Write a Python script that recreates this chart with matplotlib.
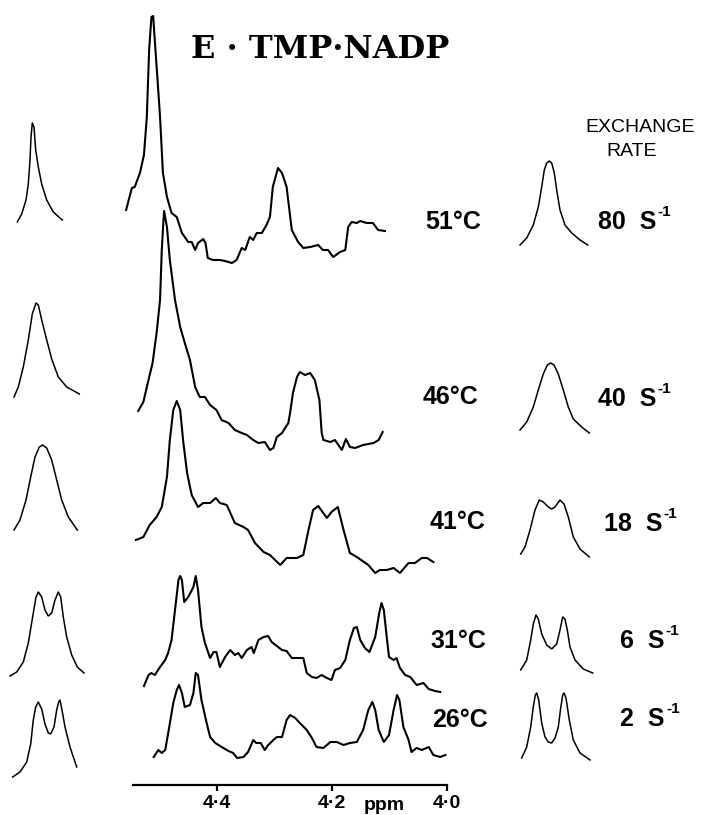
import matplotlib
matplotlib.use("Agg")
import matplotlib.pyplot as plt

W, H = 701, 815

temps = ["51°C", "46°C", "41°C", "31°C", "26°C"]
rates = ["80", "40", "18", "6", "2"]

# observed spectra: chemical shift (ppm) and height above the trace's baseline
ppm_51 = [4.558, 4.548, 4.543, 4.534, 4.527, 4.522, 4.518, 4.514, 4.511, 4.507,
          4.503, 4.499, 4.494, 4.487, 4.479, 4.470, 4.461, 4.450, 4.444, 4.438,
          4.433, 4.424, 4.420, 4.416, 4.407, 4.395, 4.386, 4.374, 4.366, 4.357,
          4.351, 4.343, 4.337, 4.331, 4.322, 4.314, 4.308, 4.303, 4.294, 4.287,
          4.279, 4.270, 4.259, 4.250, 4.238, 4.224, 4.216, 4.207, 4.198, 4.186,
          4.177, 4.172, 4.166, 4.157, 4.151, 4.140, 4.129, 4.120, 4.108]
int_51 = [55, 77, 78, 92, 110, 148, 215, 248, 249, 215,
          182, 148, 92, 68, 52, 48, 32, 23, 23, 15,
          22, 26, 22, 7, 5, 5, 4, 2, 5, 17,
          15, 28, 25, 32, 32, 40, 48, 78, 97, 92,
          78, 35, 23, 17, 18, 20, 15, 15, 8, 13,
          15, 38, 43, 42, 44, 42, 42, 35, 34]

ppm_46 = [4.537, 4.528, 4.522, 4.512, 4.505, 4.499, 4.496, 4.493, 4.492, 4.487,
          4.482, 4.473, 4.464, 4.456, 4.447, 4.438, 4.430, 4.421, 4.412, 4.401,
          4.392, 4.380, 4.369, 4.357, 4.348, 4.337, 4.328, 4.317, 4.308, 4.302,
          4.296, 4.287, 4.276, 4.273, 4.268, 4.261, 4.256, 4.247, 4.238, 4.230,
          4.222, 4.218, 4.215, 4.203, 4.195, 4.183, 4.176, 4.169, 4.160, 4.146,
          4.128, 4.119, 4.112]
int_46 = [39, 48, 63, 87, 117, 150, 200, 230, 239, 223,
          190, 150, 123, 107, 90, 63, 53, 53, 45, 40,
          30, 27, 20, 17, 15, 10, 7, 8, 0, 2,
          13, 17, 27, 37, 57, 73, 78, 75, 77, 70,
          50, 17, 10, 8, 10, 0, 11, 3, 2, 5,
          7, 10, 18]

ppm_41 = [4.541, 4.528, 4.517, 4.505, 4.496, 4.487, 4.482, 4.476, 4.470, 4.464,
          4.459, 4.452, 4.444, 4.433, 4.424, 4.412, 4.402, 4.395, 4.383, 4.369,
          4.354, 4.346, 4.334, 4.319, 4.308, 4.290, 4.279, 4.261, 4.250, 4.241,
          4.233, 4.224, 4.209, 4.201, 4.190, 4.180, 4.169, 4.157, 4.137, 4.125,
          4.117, 4.105, 4.093, 4.082, 4.067, 4.056, 4.044, 4.035, 4.024]
int_41 = [35, 38, 50, 58, 68, 98, 135, 165, 174, 165,
          135, 102, 80, 68, 72, 72, 77, 72, 70, 52,
          48, 45, 32, 23, 20, 10, 17, 17, 20, 45,
          65, 69, 57, 63, 68, 45, 22, 18, 10, 2,
          5, 5, 7, 2, 12, 12, 17, 17, 13]

ppm_31 = [4.527, 4.519, 4.514, 4.508, 4.499, 4.490, 4.485, 4.479, 4.473, 4.467,
          4.464, 4.461, 4.457, 4.450, 4.441, 4.437, 4.433, 4.427, 4.421, 4.412,
          4.406, 4.401, 4.395, 4.386, 4.377, 4.369, 4.363, 4.357, 4.348, 4.340,
          4.336, 4.328, 4.319, 4.311, 4.305, 4.296, 4.287, 4.279, 4.270, 4.261,
          4.250, 4.244, 4.235, 4.227, 4.218, 4.209, 4.201, 4.195, 4.186, 4.177,
          4.169, 4.162, 4.157, 4.151, 4.143, 4.135, 4.125, 4.118, 4.114, 4.110,
          4.105, 4.101, 4.093, 4.088, 4.082, 4.073, 4.064, 4.053, 4.041, 4.032,
          4.021, 4.012]
int_31 = [6, 17, 19, 17, 25, 32, 39, 52, 82, 112,
          116, 112, 90, 95, 105, 116, 102, 65, 49, 34,
          40, 40, 25, 35, 42, 37, 39, 34, 42, 45,
          39, 52, 55, 56, 50, 46, 42, 41, 34, 34,
          34, 19, 15, 14, 17, 14, 12, 22, 24, 32,
          52, 64, 65, 52, 44, 40, 55, 79, 89, 82,
          55, 35, 32, 34, 24, 17, 15, 7, 9, 3,
          1, 0]

ppm_26 = [4.510, 4.502, 4.496, 4.490, 4.483, 4.476, 4.470, 4.466, 4.461, 4.456,
          4.447, 4.441, 4.437, 4.433, 4.427, 4.418, 4.412, 4.403, 4.389, 4.380,
          4.372, 4.365, 4.354, 4.346, 4.337, 4.332, 4.324, 4.317, 4.311, 4.302,
          4.296, 4.287, 4.279, 4.273, 4.264, 4.256, 4.244, 4.235, 4.227, 4.215,
          4.203, 4.192, 4.180, 4.169, 4.157, 4.146, 4.137, 4.130, 4.125, 4.119,
          4.110, 4.101, 4.093, 4.087, 4.083, 4.076, 4.067, 4.062, 4.053, 4.044,
          4.032, 4.024, 4.012, 4.003]
int_26 = [2, 9, 6, 9, 32, 56, 69, 74, 66, 52,
          54, 66, 86, 84, 59, 36, 22, 16, 11, 8,
          6, 1, 2, 7, 19, 16, 16, 9, 14, 19,
          22, 22, 39, 44, 41, 36, 29, 21, 12, 11,
          17, 17, 14, 16, 17, 29, 49, 57, 49, 29,
          17, 24, 49, 64, 59, 32, 19, 7, 11, 9,
          12, 4, 2, 4]

obs_ppm = [ppm_51, ppm_46, ppm_41, ppm_31, ppm_26]
obs_int = [int_51, int_46, int_41, int_31, int_26]

# simulated lineshapes, left column (relative frequency, height)
left_x = [
    [17.3, 21.7, 26, 28.3, 30, 31, 32.3, 34, 35.7, 38.3, 41.7, 46.7, 53.3, 62.3],
    [14, 18.3, 23.3, 28.3, 32.3, 36, 38.3, 41.7, 46.7, 51.7, 58.3, 66.7, 79.3],
    [14, 20, 26, 30.7, 35, 39.3, 42.7, 46.7, 51.7, 56.7, 61.7, 68.3, 77.3],
    [10, 16.7, 23.3, 28.3, 33.3, 36, 38.3, 41.7, 45, 48.3, 51.7, 55, 58.3, 60.7,
     63.3, 66.7, 71.7, 77.3, 84],
    [12.7, 20, 26.7, 30.7, 33.3, 35.7, 38.3, 41.7, 45, 48.3, 50.7, 54, 56.7, 58.7,
     60, 62, 65, 70, 76.7],
]
left_h = [
    [0, 8, 22, 38, 62, 85, 99, 95, 72, 55, 38, 22, 10, 2],
    [0, 10, 30, 57, 83, 94, 92, 77, 57, 38, 20, 10, 3],
    [0, 10, 30, 53, 73, 83, 85, 82, 70, 50, 30, 13, 0],
    [0, 4, 14, 33, 63, 79, 84, 79, 66, 60, 63, 76, 84, 79, 59, 39, 21, 9, 3],
    [0, 5, 15, 33, 57, 70, 75, 68, 53, 44, 43, 50, 67, 75, 77, 67, 50, 30, 10],
]

# simulated lineshapes, right column
right_x = [
    [20, 26.7, 33.3, 38.3, 41.7, 44.3, 46.7, 49.3, 51.7, 54.3, 56.7, 60, 65, 71.7,
     80, 87.7],
    [20, 26.7, 33.3, 38.3, 43.3, 47.3, 50.7, 54, 58.3, 63.3, 68.3, 73.3, 81.7, 89.3],
    [20.7, 25, 30, 35, 39.3, 43.3, 48.3, 51.7, 55, 60, 64, 68.3, 73.3, 80, 89.3],
    [20.7, 26.7, 30.7, 33.3, 36, 38.3, 41.7, 46.7, 51.7, 56.7, 60, 62.7, 65, 67.3,
     70, 75, 83.3, 92.7],
    [21.7, 26.7, 30.7, 33.3, 35.3, 36.7, 38.7, 41.7, 45, 48.3, 51.7, 55, 58.3, 60.7,
     62.7, 64, 66, 69.3, 73.3, 80, 90],
]
right_h = [
    [0, 7, 20, 38, 58, 75, 82, 84, 82, 72, 55, 35, 20, 12, 5, 0],
    [3, 11, 26, 43, 59, 68, 70, 68, 59, 43, 26, 14, 6, 0],
    [3, 10, 27, 47, 57, 55, 50, 48, 50, 57, 53, 40, 20, 8, 0],
    [3, 13, 33, 49, 58, 54, 39, 28, 24, 29, 43, 56, 54, 43, 26, 13, 4, 0],
    [2, 13, 33, 53, 65, 67, 60, 37, 23, 18, 17, 22, 33, 52, 65, 67, 62, 40, 20, 7, 0],
]

# layout: baseline heights (pixels above the bottom of the figure)
base_mid = [550, 365, 240, 123, 56]
base_left = [593, 418, 285, 139, 38]
base_right = [570, 382, 258, 142, 55]
temp_xy = [(425, 222), (423, 397), (430, 522), (430, 641), (432, 720)]
rate_xy = [(656, 222), (656, 399), (662, 524), (664, 641), (665, 719)]


def fx(px):
    return px / W


def fy(py):
    return 1 - py / H


fig = plt.figure(figsize=(W / 100, H / 100), dpi=100)

# centre panel: observed spectra on a ppm scale
ax = fig.add_axes([fx(110), 0, 340 / W, 1])
ax.set_xlim(4.586, 3.995)
ax.set_ylim(0, H)
for x, y, b in zip(obs_ppm, obs_int, base_mid):
    ax.plot(x, [v + b for v in y], color="black", lw=1.5,
            solid_joinstyle="round")
for s in ["top", "left", "right"]:
    ax.spines[s].set_visible(False)
ax.spines["bottom"].set_position(("data", H - 785))
ax.spines["bottom"].set_bounds(4.0, 4.546)
ax.spines["bottom"].set_linewidth(1.6)
ax.set_yticks([])
ax.set_xticks([4.4, 4.2, 4.0])
ax.set_xticklabels(["4·4", "4·2", "4·0"], fontfamily="Liberation Sans",
                   fontweight="bold", fontsize=14)
ax.tick_params(axis="x", direction="out", length=4, width=1.6, pad=3)
fig.text(fx(384), fy(806), "ppm", ha="center", va="center",
         fontfamily="Liberation Sans", fontweight="bold", fontsize=14)

# side panels: simulated lineshapes
for left, xs, hs, bases in [(0, left_x, left_h, base_left),
                            (500, right_x, right_h, base_right)]:
    sax = fig.add_axes([fx(left), 0, 110 / W, 1])
    sax.set_xlim(0, 110)
    sax.set_ylim(0, H)
    sax.axis("off")
    for x, y, b in zip(xs, hs, bases):
        sax.plot(x, [v + b for v in y], color="black", lw=1.1,
                 solid_joinstyle="round")

fig.text(fx(320), fy(50), "E · TMP·NADP", ha="center", va="center",
         fontfamily="DejaVu Serif", fontweight="bold", fontsize=23)
fig.text(fx(640), fy(128), "EXCHANGE", ha="center", va="center",
         fontfamily="Liberation Sans", fontsize=14)
fig.text(fx(632), fy(152), "RATE", ha="center", va="center",
         fontfamily="Liberation Sans", fontsize=14)

for t, (x, y) in zip(temps, temp_xy):
    fig.text(fx(x), fy(y), t, ha="left", va="center",
             fontfamily="Liberation Sans", fontweight="bold", fontsize=18)
for r, (x, y) in zip(rates, rate_xy):
    fig.text(fx(x), fy(y), r + "  S", ha="right", va="center",
             fontfamily="Liberation Sans", fontweight="bold", fontsize=18)
    fig.text(fx(x + 1), fy(y - 10), "-1", ha="left", va="center",
             fontfamily="Liberation Sans", fontweight="bold", fontsize=11)

fig.savefig("out.png", dpi=100)
